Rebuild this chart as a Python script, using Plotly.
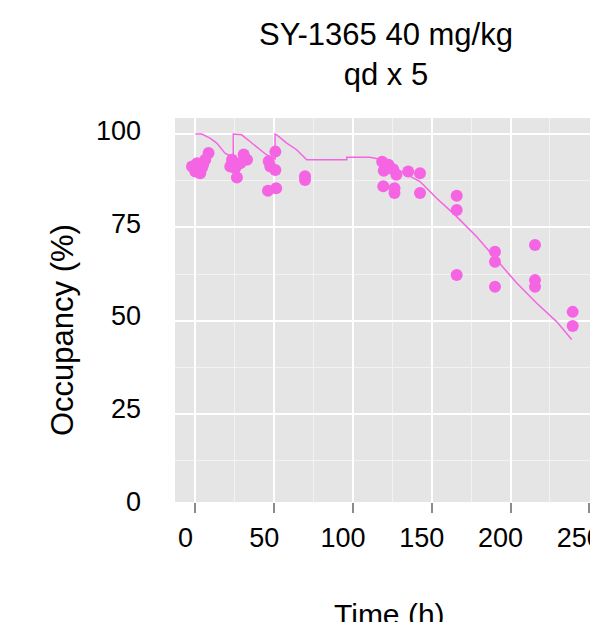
import plotly.graph_objects as go

# Observed occupancy (time in h, occupancy in %)
obs_time = [8.3, 6.2, 1.0, -2.2, -0.1, 3.0, 4.1, 4.8,
            30.6, 32.7, 23.2, 22.1, 25.3, 28.4, 26.3,
            50.7, 46.5, 47.5, 50.7, 46.0, 51.2,
            69.5, 69.5,
            118.5, 122.5, 119.5, 125.5, 127.5, 135.0, 142.5, 119.2, 126.3, 126.3, 142.5,
            165.8, 165.8, 165.8,
            190.1, 190.1, 190.1,
            215.5, 215.5, 215.5,
            239.4, 239.4]
obs_occ = [94.9, 93.1, 92.2, 91.3, 90.0, 89.5, 90.9, 91.8,
           94.5, 93.1, 93.1, 91.3, 90.9, 92.2, 88.4,
           95.3, 92.7, 91.3, 90.4, 84.8, 85.5,
           88.7, 87.7,
           92.6, 91.8, 90.2, 90.6, 89.1, 90.0, 89.5, 86.0, 85.5, 84.2, 84.2,
           83.5, 79.7, 62.3,
           68.5, 65.8, 59.1,
           70.3, 60.9, 59.1,
           52.4, 48.6]

# Model-predicted occupancy curve
pred_time = [0, 4, 9.2, 13.5, 18.7, 22.5, 24, 24, 29.3, 34.6, 39.9, 45.2, 50.5, 50.5,
             51.6, 57.9, 64.2, 70.6, 96, 96, 110.8, 119.2, 126.6, 142.5, 153.1, 165.8,
             178.5, 191.2, 203.9, 216.6, 229.2, 238.8]
pred_occ = [100, 100, 98.9, 97.6, 94.9, 94.0, 93.8, 100, 99.8, 98.0, 96.2, 94.4, 93.4, 100,
            99.8, 97.6, 95.8, 93.1, 93.1, 93.8, 93.8, 93.1, 90.9, 87.3, 82.8, 77.9,
            72.5, 66.3, 60.1, 54.7, 49.8, 45.0]

x_ticks = [0, 50, 100, 150, 200, 250]
y_ticks = [0, 25, 50, 75, 100]

PINK = "#F564E3"
FONT = "Liberation Sans, Arial, sans-serif"

fig = go.Figure()
fig.add_trace(go.Scatter(x=pred_time, y=pred_occ, mode="lines",
                         line=dict(color=PINK, width=1.5), hoverinfo="skip"))
fig.add_trace(go.Scatter(x=obs_time, y=obs_occ, mode="markers",
                         marker=dict(color=PINK, size=12, line=dict(width=0))))
# empty trace so the label-only overlay axis exists
fig.add_trace(go.Scatter(x=[], y=[], yaxis="y2", showlegend=False))

L, T, B = 175, 118.3, 120.3
W, H = 590, 622
plot_w = W - L
plot_h = H - T - B

fig.update_layout(
    width=W, height=H,
    margin=dict(l=L, r=0, t=T, b=B, pad=0, autoexpand=False),
    plot_bgcolor="#E5E5E5", paper_bgcolor="white",
    showlegend=False,
    font=dict(family=FONT, color="black"),
    title=dict(text="SY-1365 40 mg/kg<br>qd x 5", font=dict(family=FONT, size=31, color="black"),
               x=386 / W, xref="container", xanchor="center",
               y=1 - 45 / H, yref="container", yanchor="top", automargin=False),
    xaxis=dict(range=[-13.0, 250.4], tickmode="array", tickvals=x_ticks,
               ticktext=[str(v) for v in x_ticks], automargin=False,
               showgrid=True, gridcolor="white", gridwidth=2,
               minor=dict(dtick=25, tick0=0, showgrid=True, gridcolor="#F3F3F3", gridwidth=1),
               zeroline=False, showline=False,
               ticks="outside", ticklen=10, tickwidth=2, tickcolor="#8C8C8C",
               tickfont=dict(family=FONT, size=27, color="black"),
               ticklabelshift=-10, ticklabelstandoff=2, ticklabeloverflow="allow"),
    yaxis=dict(range=[1.5, 104.3], tickmode="array", tickvals=y_ticks, automargin=False,
               showgrid=True, gridcolor="white", gridwidth=2,
               minor=dict(dtick=12.5, tick0=0, showgrid=True, gridcolor="#F3F3F3", gridwidth=1),
               zeroline=False, showline=False, showticklabels=False, ticks=""),
    yaxis2=dict(overlaying="y", anchor="x", side="left", range=[-0.06, 103.29],
                tickmode="array", tickvals=y_ticks, ticktext=[str(v) for v in y_ticks],
                automargin=False,
                showgrid=False, zeroline=False, showline=False, ticks="",
                tickfont=dict(family=FONT, size=27, color="black"),
                ticklabelstandoff=33),
    annotations=[
        dict(text="Occupancy (%)", textangle=-90, showarrow=False,
             xref="paper", yref="paper",
             x=(62 - L) / plot_w, y=(H - B - 330) / plot_h,
             xanchor="center", yanchor="middle",
             font=dict(family=FONT, size=31, color="black")),
        dict(text="Time (h)", showarrow=False,
             xref="paper", yref="paper",
             x=(389 - L) / plot_w, y=(H - B - 614) / plot_h,
             xanchor="center", yanchor="middle",
             font=dict(family=FONT, size=30, color="black")),
    ],
)

fig.write_html("out.html")
